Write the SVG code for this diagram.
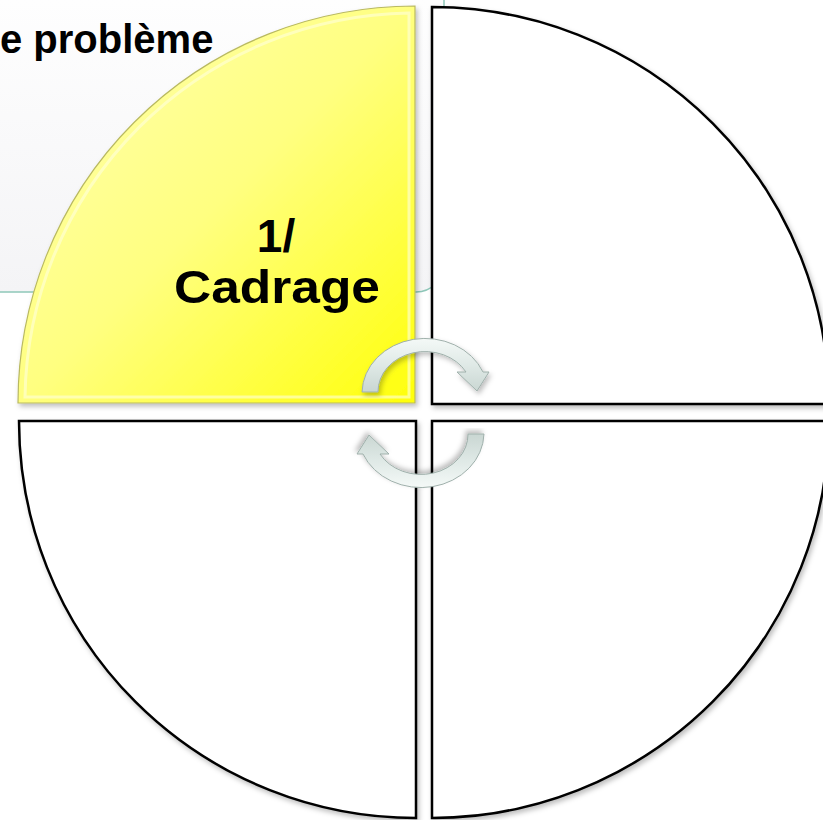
<svg xmlns="http://www.w3.org/2000/svg" width="823" height="820" viewBox="0 0 823 820">
<style>
.q{fill:#ffffff;stroke:#000000;stroke-width:2.5;filter:url(#sh)}
.t{font-family:"Liberation Sans",Arial,sans-serif;font-weight:bold;fill:#000000}
.arr{fill:url(#ag);stroke:#9fb0ab;stroke-width:1;filter:url(#sh)}
</style>
<defs>
<filter id="sh" x="-10%" y="-10%" width="120%" height="120%">
<feDropShadow dx="2" dy="3" stdDeviation="2.5" flood-color="#000" flood-opacity="0.25"/>
</filter>
<linearGradient id="yg" x1="0" y1="0" x2="1" y2="1">
<stop offset="0" stop-color="#ffffb4"/>
<stop offset="0.5" stop-color="#ffff80"/>
<stop offset="1" stop-color="#ffff0a"/>
</linearGradient>
<linearGradient id="bg" x1="0" y1="0" x2="0" y2="1">
<stop offset="0" stop-color="#ffffff"/>
<stop offset="1" stop-color="#f4f4f6"/>
</linearGradient>
<linearGradient id="ag" x1="0" y1="0" x2="0" y2="1">
<stop offset="0" stop-color="#f4f9f7"/>
<stop offset="0.5" stop-color="#dfe9e6"/>
<stop offset="1" stop-color="#c9d6d2"/>
</linearGradient>
<path id="arrow" d="M -63,0 A 63 55 0 0 1 58,-20 L 64,-20 L 52,-1 L 32,-20 L 41,-20 A 47 40 0 0 0 -47,0 Z"/>
</defs>
<rect width="823" height="820" fill="#ffffff"/>
<g id="title-box">
<rect x="-40" y="-30" width="484" height="322" rx="28" fill="url(#bg)" stroke="#8ec7b9" stroke-width="1.5"/>
<text class="t" x="0" y="53" font-size="40">e problème</text>
</g>
<g id="q2">
<path class="q" d="M432,404 L432,7 A397 397 0 0 1 829,404 Z"/>
</g>
<g id="q3">
<path class="q" d="M416,421 L416,818 A397 397 0 0 1 19,421 Z"/>
</g>
<g id="q4">
<path class="q" d="M432,421 L829,421 A397 397 0 0 1 432,818 Z"/>
</g>
<g id="q1">
<path d="M415,403 L18,403 A397 397 0 0 1 415,6 Z" fill="url(#yg)" stroke="#b9b960" stroke-width="1.2" filter="url(#sh)"/>
<path d="M409,397 L25,397 A390 390 0 0 1 409,13 Z" fill="none" stroke="#ffffdc" stroke-width="3" opacity="0.6"/>
<text class="t" x="276" y="252" font-size="46" text-anchor="middle">1/</text>
<text class="t" x="277" y="303" font-size="46" text-anchor="middle" textLength="206" lengthAdjust="spacingAndGlyphs">Cadrage</text>
</g>
<g id="connectors">
<use href="#arrow" class="arr" transform="translate(425,392)"/>
<use href="#arrow" class="arr" transform="translate(421,434) rotate(180)"/>
</g>
</svg>
